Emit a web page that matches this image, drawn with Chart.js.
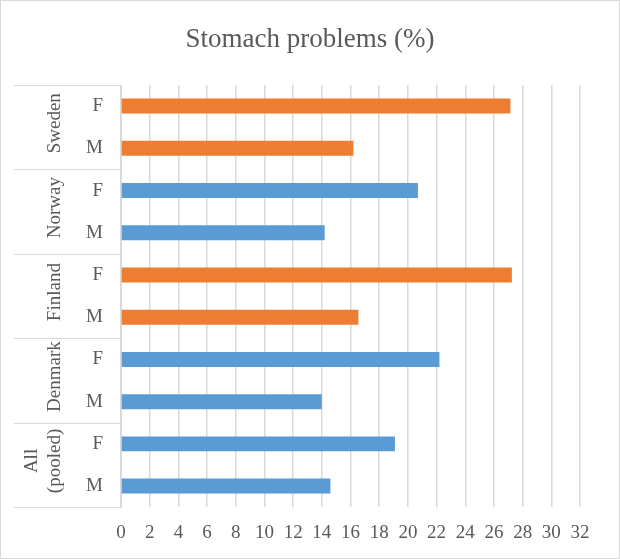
<!DOCTYPE html>
<html>
<head>
<meta charset="utf-8">
<script src="https://cdn.jsdelivr.net/npm/chart.js@4/dist/chart.umd.min.js"></script>
<style>
    html, body { margin: 0; padding: 0; background: #fff; }
    #wrap { width: 620px; height: 559px; }
</style>
</head>
<body>
<div id="wrap"><canvas id="chart-stomach" width="620" height="559"></canvas></div>
<script>
// data, top row first
var countries = ['Sweden', 'Norway', 'Finland', 'Denmark', 'All (pooled)'];
var sexes = ['F', 'M'];
var values = [27.15, 16.2, 20.7, 14.2, 27.25, 16.55, 22.2, 14.0, 19.1, 14.6];
var countryColors = ['#ED7D31', '#5B9BD5', '#ED7D31', '#5B9BD5', '#5B9BD5'];
var xTicks = [0, 2, 4, 6, 8, 10, 12, 14, 16, 18, 20, 22, 24, 26, 28, 30, 32];

var serif = "'Liberation Serif', 'Times New Roman', serif";
var textColor = '#595959';
var lineColor = '#d9d9d9';

var labels = [];
var barColors = [];
countries.forEach(function(c, i) {
    sexes.forEach(function(s) {
        labels.push(s);
        barColors.push(countryColors[i]);
    });
});

// outer category level + frame
var groupAxis = {
    id: 'groupAxis',
    afterDraw: function(chart) {
        var ctx = chart.ctx;
        var y = chart.scales.y;
        var area = chart.chartArea;
        var step = (y.getPixelForValue(1) - y.getPixelForValue(0));
        ctx.save();
        ctx.strokeStyle = lineColor;
        ctx.lineWidth = 1;
        // group separators
        for (var g = 0; g <= countries.length; g++) {
            var py = Math.round(y.getPixelForValue(g * sexes.length) - step / 2) + 0.5;
            ctx.beginPath();
            ctx.moveTo(14, py);
            ctx.lineTo(area.left, py);
            ctx.stroke();
        }
        // group names, rotated
        ctx.fillStyle = textColor;
        ctx.font = '19px ' + serif;
        ctx.textAlign = 'center';
        ctx.textBaseline = 'middle';
        countries.forEach(function(c, i) {
            var top = y.getPixelForValue(i * sexes.length) - step / 2;
            var bottom = y.getPixelForValue((i + 1) * sexes.length - 1) + step / 2;
            var cy = (top + bottom) / 2 - 4;
            var lines = c.indexOf(' ') > 0 ? c.split(' ') : [c];
            var lh = 23;
            var x0 = 55 - (lines.length - 1) * lh;
            lines.forEach(function(t, k) {
                ctx.save();
                ctx.translate(x0 + k * lh, cy);
                ctx.rotate(-Math.PI / 2);
                ctx.fillText(t, 0, 0);
                ctx.restore();
            });
        });
        // outer frame
        ctx.strokeRect(0.5, 0.5, chart.width - 1, chart.height - 1);
        ctx.restore();
    }
};

function chart() {
    var ctx = document.getElementById('chart-stomach');
    var myChart = new Chart(ctx, {
        type: 'bar',
        data: {
            labels: labels,
            datasets: [{
                label: 'Stomach problems (%)',
                data: values,
                backgroundColor: barColors,
                borderWidth: 0,
                barPercentage: 0.355,
                categoryPercentage: 1
            }]
        },
        options: {
            indexAxis: 'y',
            responsive: false,
            animation: false,
            layout: {
                padding: { top: 0, left: 40, right: 40, bottom: 1 }
            },
            plugins: {
                legend: { display: false },
                tooltip: { enabled: false },
                title: {
                    display: true,
                    text: 'Stomach problems (%)',
                    color: textColor,
                    font: { family: serif, size: 27, weight: 'normal' },
                    padding: { top: 24, bottom: 28.6 }
                }
            },
            scales: {
                x: {
                    min: 0,
                    max: 32,
                    afterBuildTicks: function(scale) {
                        scale.ticks = xTicks.map(function(v) { return { value: v }; });
                    },
                    grid: { color: lineColor, lineWidth: 1.5, drawTicks: false },
                    border: { display: false },
                    ticks: {
                        color: textColor,
                        font: { family: serif, size: 19 },
                        padding: 14,
                        maxRotation: 0,
                        autoSkip: false
                    }
                },
                y: {
                    grid: { display: false, drawTicks: false },
                    border: { display: true, color: lineColor, width: 1 },
                    afterFit: function(scale) { scale.width = 81; },
                    ticks: {
                        color: textColor,
                        font: { family: serif, size: 19 },
                        padding: 18
                    }
                }
            }
        },
        plugins: [groupAxis]
    });
}

chart();
</script>
</body>
</html>
